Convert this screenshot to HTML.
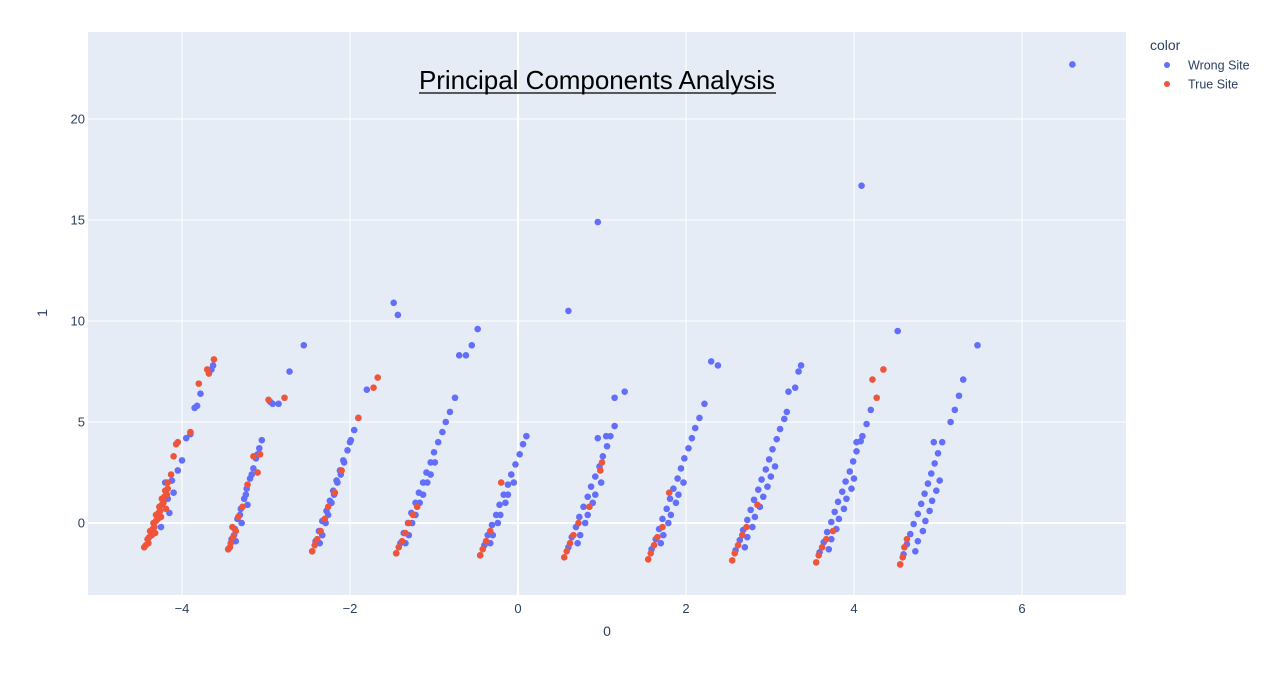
<!DOCTYPE html>
<html><head><meta charset="utf-8"><style>
html,body{margin:0;padding:0;background:#fff;}
svg{display:block;font-family:"Liberation Sans",sans-serif;}
</style></head><body>
<svg id="chart" width="1272" height="684">
<rect x="88" y="32" width="1038" height="563" fill="#e5ecf6"/>
<g id="grid"></g>
<g id="marks"></g>
<g id="ticks" fill="#2a3f5f" font-size="13"></g>
<text x="597" y="89" text-anchor="middle" font-size="26" fill="#000" textLength="356">Principal Components Analysis</text>
<line x1="419" y1="93" x2="776" y2="93" stroke="#000" stroke-width="1.3"/>
<text x="607" y="636" text-anchor="middle" font-size="14" fill="#2a3f5f">0</text>
<text x="47" y="313" text-anchor="middle" font-size="14" fill="#2a3f5f" transform="rotate(-90 47 313)">1</text>
<g>
<text x="1150" y="50" font-size="14" fill="#2a3f5f">color</text>
<g><circle cx="1167" cy="65" r="3" fill="#636efa"/><text x="1188" y="69.5" font-size="12.5" fill="#2a3f5f">Wrong Site</text></g>
<g><circle cx="1167" cy="84" r="3" fill="#EF553B"/><text x="1188" y="88.5" font-size="12.5" fill="#2a3f5f">True Site</text></g>
</g>
</svg>
<script>
const xTicks=[-4,-2,0,2,4,6];
const yTicks=[0,5,10,15,20];
const xTickLabels=["−4","−2","0","2","4","6"];
const yTickLabels=["0","5","10","15","20"];
const wrongPoints=[
[-4.20,2.0],[-4.12,2.1],[-4.05,2.6],[-4.10,1.5],[-4.17,1.2],[-4.00,3.1],[-3.95,4.2],[-3.90,4.4],[-3.85,5.7],[-3.82,5.8],[-3.78,6.4],[-3.65,7.6],[-3.63,7.8],[-4.15,0.5],[-4.25,-0.2],
[-3.45,-1.3],[-3.41,-0.8],[-3.37,-0.3],[-3.34,0.2],[-3.30,0.7],[-3.26,1.2],[-3.23,1.7],[-3.19,2.2],[-3.15,2.7],[-3.12,3.2],[-3.08,3.7],[-3.05,4.1],
[-3.38,-0.6],[-3.31,0.4],[-3.24,1.4],[-3.17,2.4],[-3.10,3.4],[-3.36,-0.9],[-3.29,0.0],[-3.22,0.9],
[-2.95,6.0],[-2.92,5.9],[-2.85,5.9],[-2.72,7.5],[-2.55,8.8],
[-2.45,-1.4],[-2.41,-0.9],[-2.37,-0.4],[-2.33,0.1],[-2.28,0.6],[-2.24,1.1],[-2.20,1.6],[-2.16,2.1],[-2.12,2.6],[-2.08,3.1],[-2.03,3.6],[-1.99,4.1],[-1.95,4.6],[-1.90,5.2],
[-2.36,-1.0],[-2.29,0.0],[-2.22,1.0],[-2.15,2.0],[-2.07,3.0],[-2.00,4.0],[-2.33,-0.6],[-2.26,0.4],[-2.19,1.4],[-2.11,2.4],
[-1.80,6.6],[-1.48,10.9],[-1.43,10.3],
[-1.45,-1.5],[-1.40,-1.0],[-1.36,-0.5],[-1.31,0.0],[-1.27,0.5],[-1.22,1.0],[-1.18,1.5],[-1.13,2.0],[-1.09,2.5],[-1.04,3.0],[-1.00,3.5],[-0.95,4.0],[-0.90,4.5],[-0.86,5.0],[-0.81,5.5],[-0.75,6.2],
[-1.34,-1.0],[-1.26,0.0],[-1.17,1.0],[-1.08,2.0],[-0.99,3.0],[-1.30,-0.6],[-1.22,0.4],[-1.13,1.4],[-1.04,2.4],
[-0.70,8.3],[-0.62,8.3],[-0.55,8.8],[-0.48,9.6],
[-0.45,-1.6],[-0.40,-1.1],[-0.36,-0.6],[-0.31,-0.1],[-0.26,0.4],[-0.22,0.9],[-0.17,1.4],[-0.12,1.9],[-0.08,2.4],[-0.03,2.9],[0.02,3.4],[0.06,3.9],[0.10,4.3],
[-0.33,-1.0],[-0.24,0.0],[-0.15,1.0],[-0.05,2.0],[-0.30,-0.6],[-0.21,0.4],[-0.12,1.4],
[0.60,-1.2],[0.64,-0.7],[0.69,-0.2],[0.73,0.3],[0.78,0.8],[0.83,1.3],[0.87,1.8],[0.92,2.3],[0.97,2.8],[1.01,3.3],[1.06,3.8],[1.10,4.3],[1.15,4.8],
[0.71,-1.0],[0.80,0.0],[0.89,1.0],[0.99,2.0],[0.74,-0.6],[0.83,0.4],[0.92,1.4],
[0.60,10.5],[0.95,14.9],[1.15,6.2],[1.27,6.5],[0.95,4.2],[1.05,4.3],
[1.59,-1.3],[1.64,-0.8],[1.68,-0.3],[1.72,0.2],[1.77,0.7],[1.81,1.2],[1.85,1.7],[1.90,2.2],[1.94,2.7],[1.98,3.2],[2.03,3.7],[2.07,4.2],[2.11,4.7],[2.16,5.2],[2.22,5.9],
[1.70,-1.0],[1.79,0.0],[1.88,1.0],[1.97,2.0],[1.73,-0.6],[1.82,0.4],[1.91,1.4],
[2.30,8.0],[2.38,7.8],
[2.59,-1.35],[2.64,-0.85],[2.68,-0.35],[2.73,0.15],[2.77,0.65],[2.81,1.15],[2.86,1.65],[2.90,2.15],[2.95,2.65],[2.99,3.15],[3.03,3.65],[3.08,4.15],[3.12,4.65],[3.17,5.15],[3.20,5.5],
[2.70,-1.2],[2.79,-0.2],[2.88,0.8],[2.97,1.8],[3.06,2.8],[2.73,-0.7],[2.82,0.3],[2.92,1.3],[3.01,2.3],
[3.30,6.7],[3.37,7.8],[3.22,6.5],[3.34,7.5],
[3.59,-1.45],[3.64,-0.95],[3.68,-0.45],[3.73,0.05],[3.77,0.55],[3.81,1.05],[3.86,1.55],[3.90,2.05],[3.95,2.55],[3.99,3.05],[4.03,3.55],[4.08,4.05],[4.10,4.3],
[3.70,-1.3],[3.79,-0.3],[3.88,0.7],[3.97,1.7],[3.73,-0.8],[3.82,0.2],[3.91,1.2],[4.00,2.2],
[4.20,5.6],[4.15,4.9],[4.09,16.7],[4.52,9.5],[4.03,4.0],
[4.55,-2.05],[4.59,-1.55],[4.63,-1.05],[4.67,-0.55],[4.71,-0.05],[4.76,0.45],[4.80,0.95],[4.84,1.45],[4.88,1.95],[4.92,2.45],[4.96,2.95],[5.00,3.45],[5.05,4.0],
[4.73,-1.4],[4.82,-0.4],[4.90,0.6],[4.98,1.6],[4.76,-0.9],[4.85,0.1],[4.93,1.1],[5.02,2.1],
[4.95,4.0],[5.15,5.0],[5.20,5.6],[5.25,6.3],[5.30,7.1],[5.47,8.8],[6.60,22.7]];
const truePoints=[
[-4.45,-1.2],[-4.41,-0.8],[-4.38,-0.4],[-4.34,0.0],[-4.31,0.4],[-4.27,0.8],[-4.24,1.2],[-4.20,1.6],[-4.17,2.0],[-4.13,2.4],
[-4.40,-1.0],[-4.36,-0.6],[-4.33,-0.2],[-4.29,0.2],[-4.26,0.6],[-4.22,1.0],[-4.18,1.4],
[-4.43,-1.1],[-4.39,-0.7],[-4.35,-0.3],[-4.31,0.1],[-4.28,0.5],[-4.24,0.9],[-4.21,1.3],[-4.17,1.7],[-4.32,-0.5],[-4.25,0.3],[-4.19,0.7],
[-3.80,6.9],[-3.62,8.1],[-3.68,7.4],[-3.90,4.5],[-4.05,4.0],[-4.07,3.9],[-3.70,7.6],[-4.10,3.3],
[-3.45,-1.3],[-3.42,-1.0],[-3.39,-0.7],[-3.36,-0.4],[-3.40,-0.2],[-3.33,0.3],[-3.28,0.8],[-3.22,1.9],[-3.15,3.3],[-3.10,2.5],[-2.97,6.1],[-2.78,6.2],[-3.07,3.4],[-3.43,-1.2],
[-2.45,-1.4],[-2.42,-1.1],[-2.39,-0.8],[-2.35,-0.4],[-2.30,0.2],[-2.26,0.8],[-2.10,2.6],[-1.90,5.2],[-1.72,6.7],[-1.67,7.2],[-2.18,1.5],
[-1.45,-1.5],[-1.42,-1.2],[-1.38,-0.9],[-1.34,-0.5],[-1.30,0.0],[-1.25,0.4],[-1.20,0.8],
[-0.45,-1.6],[-0.42,-1.3],[-0.38,-0.9],[-0.33,-0.4],[-0.20,2.0],
[0.55,-1.7],[0.58,-1.4],[0.62,-1.0],[0.66,-0.6],[0.72,0.0],[1.00,3.0],[0.98,2.6],[0.85,0.8],
[1.55,-1.8],[1.58,-1.5],[1.62,-1.1],[1.66,-0.7],[1.80,1.5],[1.72,-0.2],
[2.55,-1.85],[2.58,-1.5],[2.62,-1.1],[2.67,-0.6],[2.72,-0.2],[2.85,0.9],
[3.55,-1.95],[3.58,-1.6],[3.62,-1.2],[3.67,-0.8],[4.22,7.1],[4.35,7.6],[4.27,6.2],[3.75,-0.4],
[4.55,-2.05],[4.58,-1.7],[4.60,-1.2],[4.63,-0.8]];
const NS="http://www.w3.org/2000/svg";
const X0=88,X1=1126,Y0=32,Y1=595;
function xs(v){return 518+84*v;}
function ys(v){return 523-20.2*v;}
const grid=document.getElementById('grid'),marks=document.getElementById('marks'),ticks=document.getElementById('ticks');
xTicks.forEach((t,i)=>{
 const l=document.createElementNS(NS,'line');
 l.setAttribute('x1',xs(t));l.setAttribute('x2',xs(t));l.setAttribute('y1',Y0);l.setAttribute('y2',Y1);
 l.setAttribute('stroke','#fff');l.setAttribute('stroke-width',t===0?2:1);
 
 
 grid.appendChild(l);
 const tx=document.createElementNS(NS,'text');
 tx.setAttribute('x',xs(t));tx.setAttribute('y',Y1+18);tx.setAttribute('text-anchor','middle');
 tx.textContent=xTickLabels[i];
 
 
 ticks.appendChild(tx);
});
yTicks.forEach((t,i)=>{
 const l=document.createElementNS(NS,'line');
 l.setAttribute('x1',X0);l.setAttribute('x2',X1);l.setAttribute('y1',ys(t));l.setAttribute('y2',ys(t));
 l.setAttribute('stroke','#fff');l.setAttribute('stroke-width',t===0?2:1);
 
 
 grid.appendChild(l);
 const tx=document.createElementNS(NS,'text');
 tx.setAttribute('x',X0-3);tx.setAttribute('y',ys(t)+4.5);tx.setAttribute('text-anchor','end');
 tx.textContent=yTickLabels[i];
 
 
 ticks.appendChild(tx);
});
function draw(pts,color,name){
 const g=document.createElementNS(NS,'g');
 
 
 pts.forEach(p=>{
  const c=document.createElementNS(NS,'circle');
  c.setAttribute('cx',xs(p[0]));c.setAttribute('cy',ys(p[1]));c.setAttribute('r',3.3);
  c.setAttribute('fill',color);
  
  
  g.appendChild(c);
 });
 marks.appendChild(g);
}
draw(wrongPoints,'#636efa','wrong-site-series');
draw(truePoints,'#EF553B','true-site-series');
</script>
</body></html>
